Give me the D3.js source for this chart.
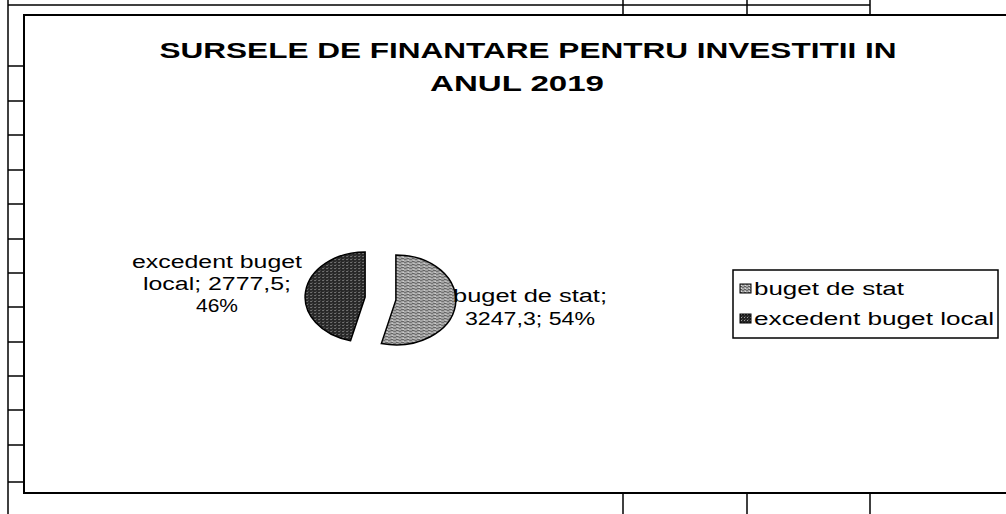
<!DOCTYPE html>
<html>
<head>
<meta charset="utf-8">
<script src="https://cdn.jsdelivr.net/npm/d3@7"></script>
<style>
  body { margin: 0; background: #fff; }
  text { font-family: "Liberation Sans", Arial, sans-serif; fill: #000; }
</style>
</head>
<body>
<svg id="graph"></svg>
<script>
// chart data
var categories = ["buget de stat", "excedent buget local"];
var values = [3247.3, 2777.5];
var valueLabels = ["3247,3", "2777,5"];
var titleLines = ["SURSELE DE FINANTARE PENTRU INVESTITII IN", "ANUL 2019"];

var svg = d3.select("#graph")
    .attr("width", 1006)
    .attr("height", 514);

// patterns to mimic the scanned hatch fills
var defs = svg.append("defs");
var pLight = defs.append("pattern").attr("id", "pLight")
    .attr("width", 4).attr("height", 3).attr("patternUnits", "userSpaceOnUse");
pLight.append("rect").attr("width", 4).attr("height", 3).attr("fill", "#a6a6a6");
pLight.append("rect").attr("x", 0).attr("y", 0).attr("width", 2).attr("height", 1).attr("fill", "#5e5e5e");
pLight.append("rect").attr("x", 2).attr("y", 1).attr("width", 2).attr("height", 1).attr("fill", "#6e6e6e");
pLight.append("rect").attr("x", 1).attr("y", 2).attr("width", 1).attr("height", 1).attr("fill", "#dcdcdc");

var pDark = defs.append("pattern").attr("id", "pDark")
    .attr("width", 3).attr("height", 3).attr("patternUnits", "userSpaceOnUse");
pDark.append("rect").attr("width", 3).attr("height", 3).attr("fill", "#262626");
pDark.append("rect").attr("x", 1).attr("y", 1).attr("width", 1).attr("height", 1).attr("fill", "#a0a0a0");
pDark.append("rect").attr("x", 2).attr("y", 0).attr("width", 1).attr("height", 1).attr("fill", "#4a4a4a");

var fills = ["url(#pLight)", "url(#pDark)"];

// spreadsheet grid remnants around the chart
var frame = svg.append("g").attr("stroke", "#000").attr("fill", "none");
frame.append("line").attr("x1", 8).attr("y1", 0).attr("x2", 8).attr("y2", 514).attr("stroke-width", 1.5);
frame.append("line").attr("x1", 8).attr("y1", 5).attr("x2", 870).attr("y2", 5).attr("stroke-width", 1.5);
[623, 747, 870].forEach(function(x) {
  frame.append("line").attr("x1", x).attr("y1", 0).attr("x2", x).attr("y2", 15).attr("stroke-width", 1.5);
  frame.append("line").attr("x1", x).attr("y1", 493).attr("x2", x).attr("y2", 514).attr("stroke-width", 1.5);
});
[66, 101, 135, 170, 204, 239, 273, 307, 342, 376, 410, 445, 482].forEach(function(y) {
  frame.append("line").attr("x1", 8).attr("y1", y).attr("x2", 24).attr("y2", y).attr("stroke-width", 1.5);
});
// chart area border
frame.append("rect").attr("x", 24).attr("y", 15).attr("width", 1000).attr("height", 478)
    .attr("fill", "#fff").attr("stroke-width", 2);

// title
var title = svg.append("g").attr("font-weight", "bold").attr("font-size", 22);
title.append("text").attr("x", 528).attr("y", 58).attr("text-anchor", "middle")
    .attr("textLength", 737).attr("lengthAdjust", "spacingAndGlyphs").text(titleLines[0]);
title.append("text").attr("x", 517).attr("y", 91).attr("text-anchor", "middle")
    .attr("textLength", 174).attr("lengthAdjust", "spacingAndGlyphs").text(titleLines[1]);

// pie (flattened ellipse, exploded slices)
var cx = 380.5, cy = 298.5, rx = 60, ry = 45, explode = 15.5;
var pie = d3.pie().sort(null).value(function(d) { return d; });
var arc = d3.arc().innerRadius(0).outerRadius(ry);
var arcs = pie(values);

svg.append("g").selectAll("path")
  .data(arcs)
  .enter().append("path")
    .attr("transform", function(d) {
      var mid = (d.startAngle + d.endAngle) / 2;
      var dx = Math.sin(mid) * explode, dy = -Math.cos(mid) * explode * ry / rx;
      return "translate(" + (cx + dx) + "," + (cy + dy) + ") scale(" + (rx / ry) + ",1)";
    })
    .attr("d", arc)
    .attr("fill", function(d, i) { return fills[i]; })
    .attr("stroke", "#000")
    .attr("stroke-width", 1.5)
    .attr("vector-effect", "non-scaling-stroke");

// data labels
var total = d3.sum(values);
function pct(v) { return Math.round(v / total * 100) + "%"; }
var labelLayout = [
  { x: 530, y: [302, 325], w: [154, 130],
    lines: function(i) { return [categories[i] + ";", valueLabels[i] + "; " + pct(values[i])]; } },
  { x: 217, y: [268, 290, 312], w: [170, 148, 42],
    lines: function(i) { return ["excedent buget", "local; " + valueLabels[i] + ";", pct(values[i])]; } }
];
var labels = svg.append("g").attr("font-size", 18);
labelLayout.forEach(function(L, i) {
  L.lines(i).forEach(function(t, j) {
    labels.append("text").attr("x", L.x).attr("y", L.y[j]).attr("text-anchor", "middle")
      .attr("textLength", L.w[j]).attr("lengthAdjust", "spacingAndGlyphs").text(t);
  });
});

// legend
var legend = svg.append("g");
legend.append("rect").attr("x", 733).attr("y", 270).attr("width", 265).attr("height", 68)
    .attr("fill", "#fff").attr("stroke", "#000").attr("stroke-width", 1.5);
var legendW = [150, 240];
var item = legend.selectAll(".item")
  .data(categories)
  .enter().append("g")
    .attr("class", "item")
    .attr("transform", function(d, i) { return "translate(740," + (295 + i * 30) + ")"; });
item.append("rect").attr("x", 0).attr("y", -11).attr("width", 11).attr("height", 9)
    .attr("fill", function(d, i) { return fills[i]; })
    .attr("stroke", "#000").attr("stroke-width", 1);
item.append("text").attr("x", 14).attr("y", 0).attr("font-size", 18)
    .attr("textLength", function(d, i) { return legendW[i]; })
    .attr("lengthAdjust", "spacingAndGlyphs")
    .text(function(d) { return d; });
</script>
</body>
</html>
